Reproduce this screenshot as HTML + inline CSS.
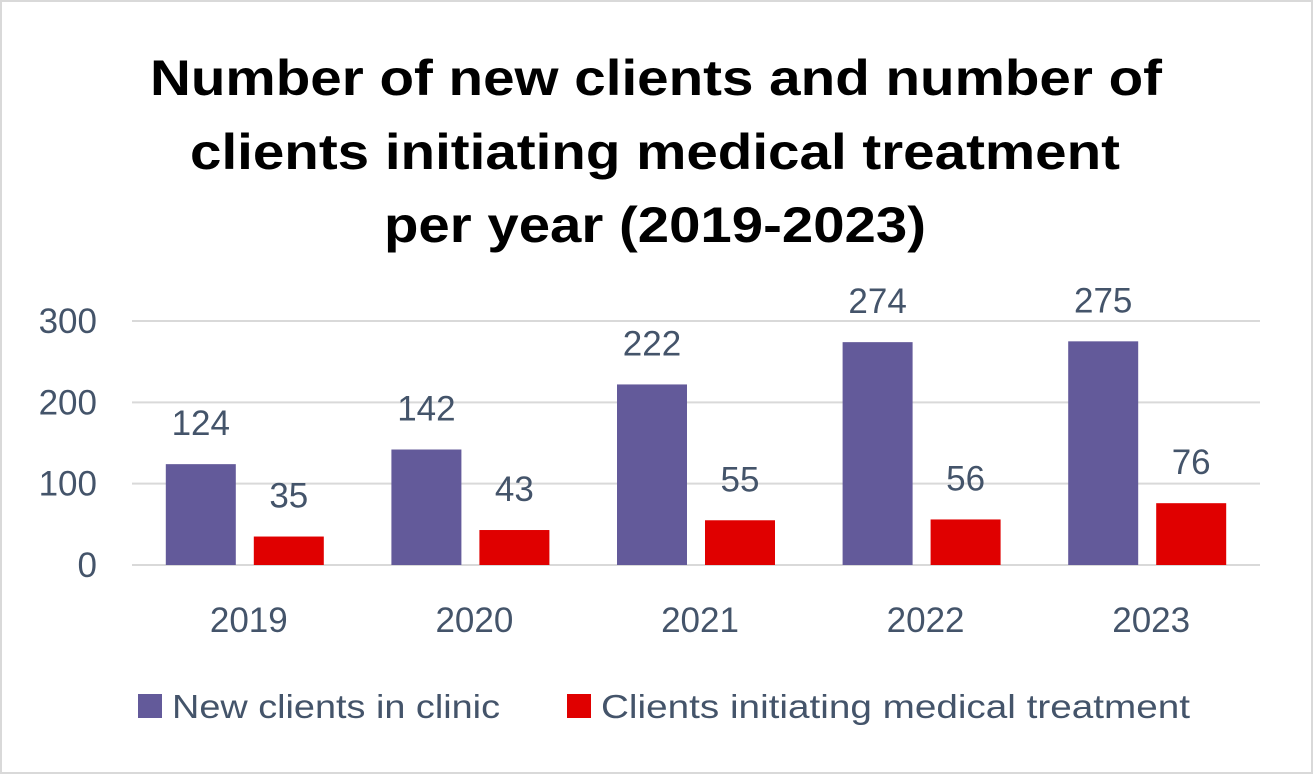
<!DOCTYPE html>
<html><head><meta charset="utf-8"><style>
html,body{margin:0;padding:0;background:#fff}
svg{display:block}
</style></head><body>
<svg width="1313" height="774" viewBox="0 0 1313 774">
<rect x="1" y="1" width="1311" height="772" fill="#fff" stroke="#d9d9d9" stroke-width="2"/>
<g font-family="'Liberation Sans', sans-serif" font-weight="bold" font-size="50" fill="#000">
<text x="150" y="95" textLength="1012" lengthAdjust="spacingAndGlyphs">Number of new clients and number of</text>
<text x="190" y="169" textLength="930" lengthAdjust="spacingAndGlyphs">clients initiating medical treatment</text>
<text x="384" y="242" textLength="542" lengthAdjust="spacingAndGlyphs">per year (2019-2023)</text>
</g>
<g id="grid"></g>
<g id="bars"></g>
<g id="legend" font-family="'Liberation Sans', sans-serif" font-size="33" fill="#44546a">
<rect x="138" y="694" width="24" height="24" fill="#635a9a"/>
<text x="172" y="718" textLength="328" lengthAdjust="spacingAndGlyphs">New clients in clinic</text>
<rect x="567" y="694" width="24" height="24" fill="#e00000"/>
<text x="601" y="718" textLength="589" lengthAdjust="spacingAndGlyphs">Clients initiating medical treatment</text>
</g>
</svg>
<script>
const categories = ["2019","2020","2021","2022","2023"];
const newClients = [124,142,222,274,275];
const treatment = [35,43,55,56,76];
const yTicks = [0,100,200,300];
const NS="http://www.w3.org/2000/svg";
const x0=132,x1=1260,y0=565,yTop=321,yMax=300;
const yS=v=>y0-(v/yMax)*(y0-yTop);
const band=(x1-x0)/categories.length;
const xC=i=>x0+band*(i+0.5);
const FF="'Liberation Sans', sans-serif";
function mk(t,a,p){const e=document.createElementNS(NS,t);for(const k in a)e.setAttribute(k,a[k]);p.appendChild(e);return e;}
const grid=document.getElementById('grid'),bars=document.getElementById('bars');
yTicks.forEach(v=>{
 const l=mk('line',{x1:x0,x2:x1,y1:yS(v),y2:yS(v),stroke:'#d9d9d9','stroke-width':2},grid);
 
 
 const t=mk('text',{x:97,y:yS(v)+12,'text-anchor':'end','font-family':FF,'font-size':35,fill:'#44546a'},grid);
 t.textContent=v;
 
 
});
const bw=70,gap=18;
categories.forEach((c,i)=>{
 const cx=xC(i);
 [[newClients[i],cx-gap/2-bw,'#635a9a','new-clients'],[treatment[i],cx+gap/2,'#e00000','treatment']].forEach(([v,x,col,n])=>{
  const r=mk('rect',{x:x,y:yS(v),width:bw,height:y0-yS(v),fill:col},bars);
  
  
  const t=mk('text',{x:x+bw/2,y:yS(v)-29,'text-anchor':'middle','font-family':FF,'font-size':35,fill:'#44546a'},bars);
  t.textContent=v;
  
  
 });
 const t=mk('text',{x:cx+4,y:632,'text-anchor':'middle','font-family':FF,'font-size':35,fill:'#44546a'},bars);
 t.textContent=c;
 
 
});
</script>
</body></html>
